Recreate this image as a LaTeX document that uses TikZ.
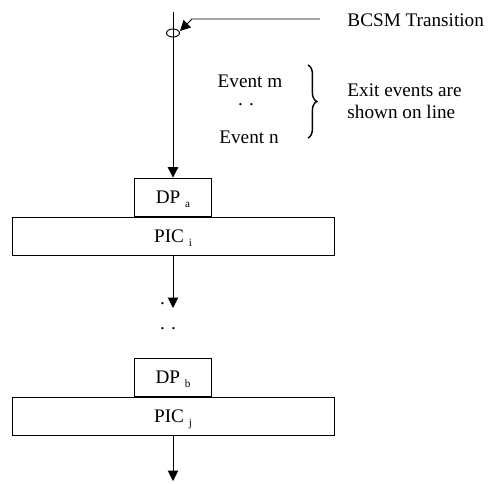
\documentclass[tikz,border=0pt]{standalone}
\usepackage{fontspec}
\setmainfont{Liberation Serif}
\usetikzlibrary{positioning,arrows.meta,decorations.pathreplacing}

\newcommand{\lowsub}[1]{\raisebox{-0.5ex}{\fontsize{7}{8}\selectfont #1}}

\begin{document}
\begin{tikzpicture}[x=0.625pt, y=-0.625pt, line width=0.6pt,
    font=\fontsize{12}{13.75}\selectfont,
    >={Triangle[length=6.5pt,width=6.5pt]},
    dpbox/.style={draw, minimum width=48.1pt, minimum height=23.75pt, inner sep=0pt, text depth=0pt},
    picbox/.style={draw, minimum width=201.25pt, minimum height=23.75pt, inner sep=0pt, text depth=0pt},
    plain/.style={inner sep=0pt}]
    \useasboundingbox (0,0) rectangle (491,483);

    % Define boxes
    \node[picbox] (pici) at (173,236) {PIC \lowsub{i}};
    \node[dpbox, above=0pt of pici] (dpa) {DP \lowsub{a}};
    \node[picbox] (picj) at (173,416) {PIC \lowsub{j}};
    \node[dpbox, above=0pt of picj] (dpb) {DP \lowsub{b}};

    % Labels
    \node[plain, anchor=west] (trans) at (347,20) {BCSM Transition};
    \node[plain] (evm) at (250,81) {Event m};
    \node[plain] (evdots) at (246,105) {. .};
    \node[plain] (evn) at (249,137) {Event n};
    \node[plain, anchor=west, align=left] (exit) at (347,101) {Exit events are\\shown on line};
    \node[plain] (dotsa) at (168,304) {. .};
    \node[plain] (dotsb) at (168,329) {. .};

    % Points on the line
    \coordinate (top) at (173,12);
    \coordinate (loop) at (173,33);
    \coordinate (lead) at (320,19);
    \coordinate (bend) at (192,19);
    \coordinate (hit) at (180,31);
    \coordinate (gap) at (173,308);
    \coordinate (bottom) at (173,481);

    % Transitions
    \draw[->] (top) -- (dpa);
    \draw (loop) ellipse (6.5 and 4);
    \draw[->] (lead) -- (bend) -- (hit);
    \draw[->] (pici) -- (gap);
    \draw[->] (picj) -- (bottom);

    % Brace
    \draw[line width=0.9pt, decorate, decoration={brace, amplitude=5.5pt}] (308,65) -- (308,138);

    \end{tikzpicture}
\end{document}
